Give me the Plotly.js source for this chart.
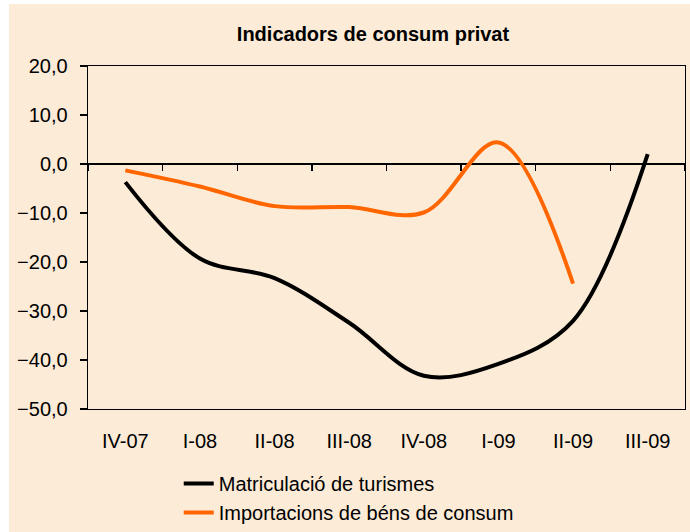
<!DOCTYPE html>
<html>
<head>
<meta charset="utf-8">
<script src="https://cdn.plot.ly/plotly-3.0.1.min.js"></script>
<style>
  body { margin: 0; background: #ffffff; }
  #grafic { position: absolute; left: 9px; top: 4px; width: 681px; height: 528px; }
</style>
</head>
<body>
<div id="grafic"></div>
<script>
// Trimestres
var trimestres = ["IV-07", "I-08", "II-08", "III-08", "IV-08", "I-09", "II-09", "III-09"];

// Taxes de variacio (%)
var matriculacio = [-3.7, -19.3, -23.3, -32.4, -43.2, -40.8, -32.0, 2.0];
var importacions = [-1.3, -4.6, -8.6, -8.8, -9.9, 4.4, -24.4, null];

var yTicks = [-50, -40, -30, -20, -10, 0, 10, 20];

var fontBase = "Liberation Sans, Arial, sans-serif";

var data = [
    {
        x: trimestres, y: matriculacio, name: "Matriculació de turismes",
        mode: "lines", line: {color: "#000000", width: 4, shape: "spline", smoothing: 1},
        legendgroup: "a", xaxis: "x", yaxis: "y", hoverinfo: "x+y"
    },
    {
        x: trimestres, y: importacions, name: "Importacions de béns de consum",
        mode: "lines", line: {color: "#FF6600", width: 4, shape: "spline", smoothing: 1},
        legendgroup: "b", xaxis: "x2", yaxis: "y", hoverinfo: "x+y"
    }
];

var layout = {
    width: 681, height: 528,
    paper_bgcolor: "#FCEBD7",
    plot_bgcolor: "#FCEBD7",
    separators: ",.",
    font: {family: fontBase, size: 20, color: "#000000"},
    margin: {l: 79, r: 5, t: 62, b: 123, autoexpand: false},
    title: {
        text: "<b>Indicadors de consum privat</b>",
        font: {family: fontBase, size: 20, color: "#000000"},
        xref: "container", x: 0.5345, xanchor: "center",
        yref: "container", y: 0.943, yanchor: "middle"
    },
    xaxis: {
        type: "category", categoryorder: "array", categoryarray: trimestres,
        range: [-0.5, 7.5],
        showline: true, mirror: true, linecolor: "#000000", linewidth: 1.3,
        ticks: "", showgrid: false, zeroline: false,
        ticklabelstandoff: 14,
        tickfont: {family: fontBase, size: 20}
    },
    // eix de categories creuant a zero, nomes marques
    xaxis2: {
        type: "category", categoryorder: "array", categoryarray: trimestres,
        range: [-0.5, 7.5],
        overlaying: "x", anchor: "free", position: 5 / 7,
        showline: false, showgrid: false, zeroline: false,
        ticks: "outside", tickson: "boundaries", ticklen: 6, tickwidth: 1.3, tickcolor: "#000000",
        showticklabels: false
    },
    yaxis: {
        range: [-50, 20], tickmode: "array", tickvals: yTicks, tickformat: ".1f",
        showline: true, mirror: true, linecolor: "#000000", linewidth: 1.3,
        ticks: "outside", ticklen: 7, tickwidth: 1.3, tickcolor: "#000000",
        ticklabelstandoff: 8,
        showgrid: false,
        zeroline: true, zerolinecolor: "#000000", zerolinewidth: 1.3,
        tickfont: {family: fontBase, size: 20}
    },
    showlegend: true,
    legend: {
        x: 0.152, xanchor: "left",
        yref: "container", y: 0.129, yanchor: "top",
        orientation: "v", traceorder: "grouped", tracegroupgap: 0,
        bgcolor: "rgba(0,0,0,0)",
        font: {family: fontBase, size: 20}
    }
};

Plotly.newPlot("grafic", data, layout, {displayModeBar: false, staticPlot: true});
</script>
</body>
</html>
